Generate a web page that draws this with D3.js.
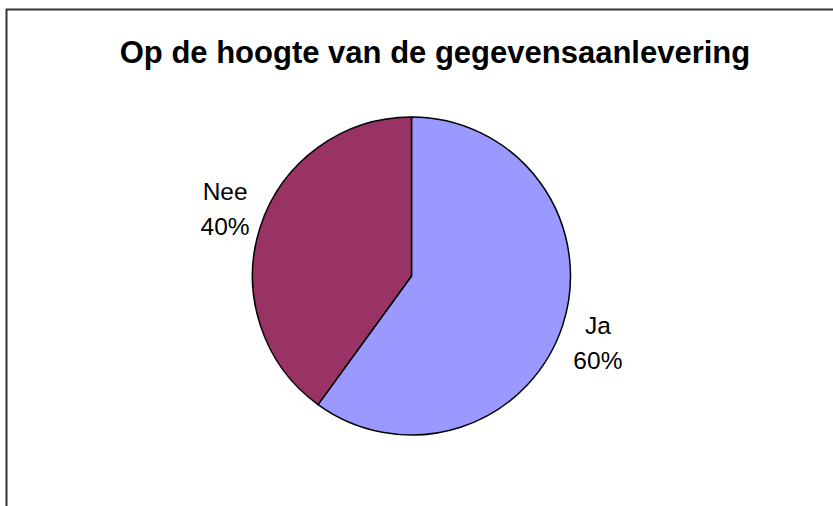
<!DOCTYPE html>
<html>
<head>
<meta charset="utf-8">
<script src="https://cdn.jsdelivr.net/npm/d3@7"></script>
<style>
  body { margin: 0; background: #fff; }
  svg { display: block; }
  text { font-family: "Liberation Sans", Arial, sans-serif; fill: #000; }
</style>
</head>
<body>
<div id="chart"></div>
<script>
// data
const categories = ["Ja", "Nee"];
const values = [60, 40];
const colors = ["#9999FF", "#993366"];
const chartTitle = "Op de hoogte van de gegevensaanlevering";

const width = 833,
  height = 506,
  cx = 411.5,
  cy = 276,
  radius = 159,
  labelRadius = 198,
  labelTurn = 0.03; // small rotation of label positions, as in the original

const svg = d3.select("#chart")
  .append("svg")
  .attr("width", width)
  .attr("height", height);

// chart area frame (cut off at right and bottom)
svg.append("rect")
  .attr("x", 6.5)
  .attr("y", 9.5)
  .attr("width", 900)
  .attr("height", 600)
  .attr("fill", "none")
  .attr("stroke", "#333")
  .attr("stroke-width", 2);

svg.append("text")
  .attr("x", 435)
  .attr("y", 63)
  .attr("text-anchor", "middle")
  .attr("font-size", 31)
  .attr("font-weight", "bold")
  .text(chartTitle);

const data = categories.map((c, i) => ({ name: c, value: values[i], color: colors[i] }));
const total = d3.sum(values);

const pie = d3.pie().value(d => d.value).sort(null);
const arc = d3.arc().innerRadius(0).outerRadius(radius);

const g = svg.append("g").attr("transform", `translate(${cx},${cy})`);

g.selectAll("path")
  .data(pie(data))
  .join("path")
  .attr("d", arc)
  .attr("fill", d => d.data.color)
  .attr("stroke", "#000")
  .attr("stroke-width", 1.5)
  .attr("stroke-linejoin", "round");

// labels: name + percentage on two lines
function labelPos(d) {
  const a = (d.startAngle + d.endAngle) / 2 + labelTurn;
  return [labelRadius * Math.sin(a), -labelRadius * Math.cos(a)];
}

const labels = g.selectAll("text.label")
  .data(pie(data))
  .join("text")
  .attr("class", "label")
  .attr("font-size", 24.5)
  .attr("text-anchor", "middle")
  .attr("transform", d => `translate(${labelPos(d)})`);

labels.append("tspan")
  .attr("x", 0)
  .attr("y", -9)
  .text(d => d.data.name);

labels.append("tspan")
  .attr("x", 0)
  .attr("y", 26)
  .text(d => Math.round(d.data.value / total * 100) + "%");
</script>
</body>
</html>
